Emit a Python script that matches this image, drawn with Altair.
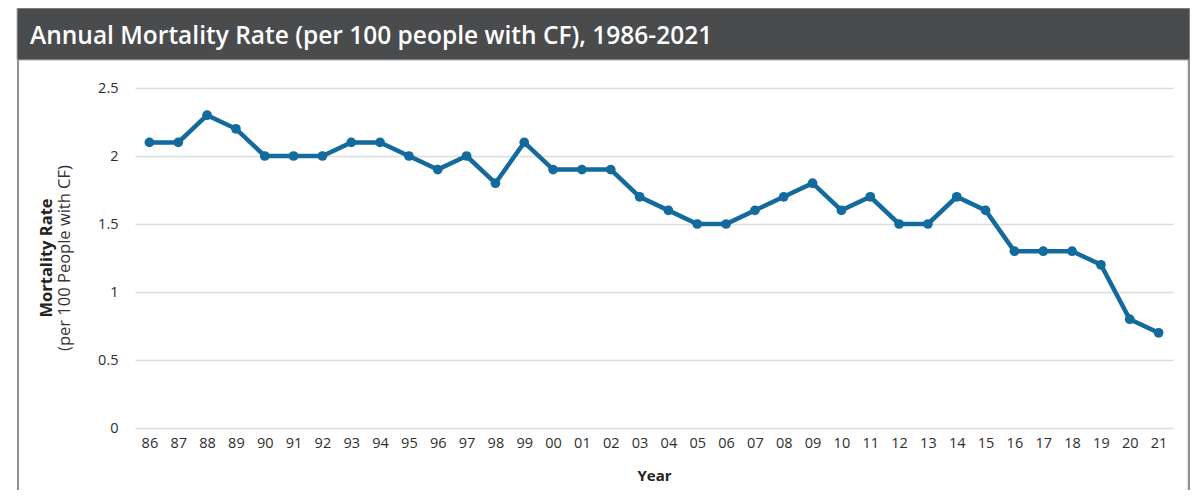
import altair as alt
import pandas as pd

years = ["86", "87", "88", "89", "90", "91", "92", "93", "94", "95", "96", "97",
         "98", "99", "00", "01", "02", "03", "04", "05", "06", "07", "08", "09",
         "10", "11", "12", "13", "14", "15", "16", "17", "18", "19", "20", "21"]
rates = [2.1, 2.1, 2.3, 2.2, 2.0, 2.0, 2.0, 2.1, 2.1, 2.0, 1.9, 2.0,
         1.8, 2.1, 1.9, 1.9, 1.9, 1.7, 1.6, 1.5, 1.5, 1.6, 1.7, 1.8,
         1.6, 1.7, 1.5, 1.5, 1.7, 1.6, 1.3, 1.3, 1.3, 1.2, 0.8, 0.7]
y_ticks = [0, 0.5, 1, 1.5, 2, 2.5]

title_text = "Annual Mortality Rate (per 100 people with CF), 1986-2021"
y_title_main = "Mortality Rate"
y_title_sub = "(per 100 People with CF)"

df = pd.DataFrame({"year": years, "rate": rates})

FONT = "Open Sans"
BLUE = "#126a9d"
W, H = 1038, 340

x_scale = alt.Scale(type="point", padding=0.5, domain=years)
x_enc = alt.X("year:O", sort=years, scale=x_scale,
              axis=alt.Axis(title="Year", labelAngle=0, domain=False, ticks=False,
                            grid=False, labelPadding=8, labelFontSize=14.5,
                            labelColor="#2e2e2e", labelFont=FONT,
                            titleFont=FONT, titleFontSize=15, titleFontWeight="bold",
                            titleColor="#222222", titlePadding=19))
y_enc = alt.Y("rate:Q", scale=alt.Scale(domain=[0, 2.5], nice=False, zero=True),
              axis=alt.Axis(values=y_ticks, title=None, domain=False, ticks=False,
                            labelPadding=17, labelFontSize=14.5, labelColor="#2e2e2e",
                            labelFont=FONT, labelExpr="datum.value",
                            gridColor="#dcdcdc", gridWidth=1.5))

base = alt.Chart(df)
line = base.mark_line(color=BLUE, strokeWidth=4.5).encode(x=x_enc, y=y_enc)
pts = base.mark_point(filled=True, color=BLUE, size=95, opacity=1).encode(
    x=alt.X("year:O", sort=years, scale=x_scale), y="rate:Q")

one = alt.Data(values=[{"k": 1}])

bar = alt.Chart(one).mark_rect(color="#4a4b4d", stroke="#b0b0b0", strokeWidth=1).encode(
    x=alt.value(-118), x2=alt.value(1055), y=alt.value(-80), y2=alt.value(-28))
left_border = alt.Chart(one).mark_rule(color="#8f8f8f", strokeWidth=2).encode(
    x=alt.value(-117), y=alt.value(-28), y2=alt.value(430))
right_border = alt.Chart(one).mark_rule(color="#8f8f8f", strokeWidth=2.5).encode(
    x=alt.value(1054), y=alt.value(-28), y2=alt.value(430))
title = alt.Chart(one).mark_text(color="white", fontSize=24.5, font=FONT, fontWeight=600,
                                 align="left", baseline="middle").encode(
    x=alt.value(-105), y=alt.value(-51), text=alt.value(title_text))
yt1 = alt.Chart(one).mark_text(color="#222222", fontSize=16.5, font=FONT, fontWeight="bold",
                               angle=270, align="center", baseline="middle").encode(
    x=alt.value(-88), y=alt.value(H / 2), text=alt.value(y_title_main))
yt2 = alt.Chart(one).mark_text(color="#333333", fontSize=16.5, font=FONT,
                               angle=270, align="center", baseline="middle").encode(
    x=alt.value(-70), y=alt.value(H / 2), text=alt.value(y_title_sub))

chart = alt.layer(line, pts, bar, left_border, right_border, title, yt1, yt2).properties(
    width=W, height=H,
    autosize=alt.AutoSizeParams(type="none"),
    padding={"left": 127, "top": 80, "right": 17, "bottom": 62},
    background="white",
).configure_view(stroke=None)

chart.save("out.html", embed_options={"renderer": "svg", "actions": False})
